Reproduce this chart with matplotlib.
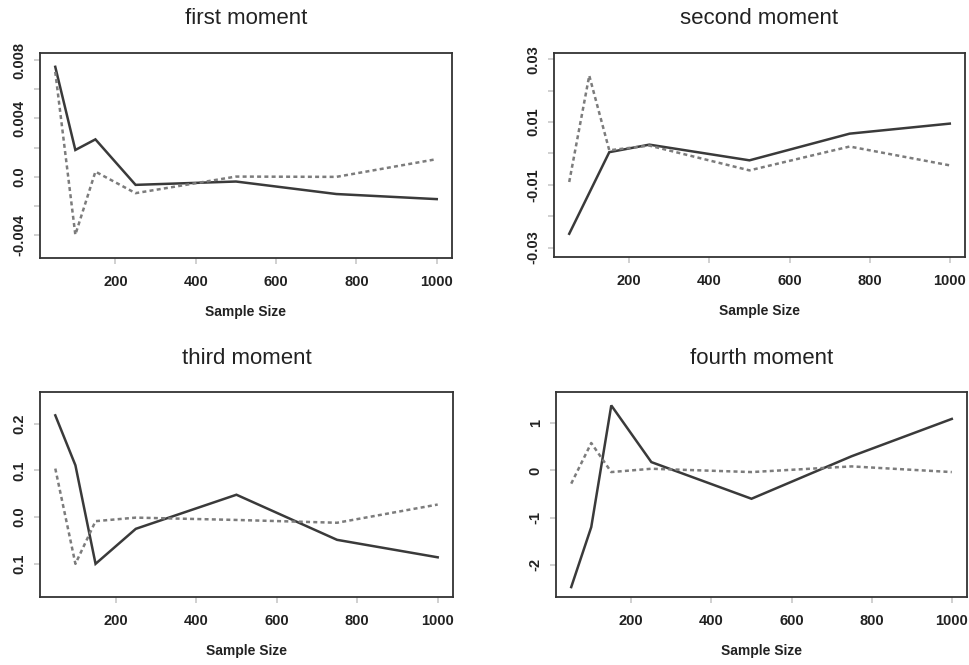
import numpy as np
import matplotlib
matplotlib.use('Agg')
import matplotlib.pyplot as plt

plt.rcParams['font.family'] = ['Liberation Sans', 'DejaVu Sans']

# sample sizes on the x axis
sample_sizes = [50, 100, 150, 250, 500, 750, 1000]

titles = ['first moment', 'second moment', 'third moment', 'fourth moment']

# solid line (first estimator) and dashed line (second estimator)
first_solid = [0.00755, 0.00183, 0.00256, -0.00057, -0.00034, -0.0012, -0.00155]
first_dashed = [0.0072, -0.0040, 0.00034, -0.00114, 0.0, -0.00002, 0.0012]

second_solid = [-0.0256, -0.0126, 0.0004, 0.0028, -0.0022, 0.0063, 0.0095]
second_dashed = [-0.0091, 0.0248, 0.0010, 0.0025, -0.0054, 0.0022, -0.0038]

third_solid = [0.218, 0.111, -0.100, -0.025, 0.048, -0.0486, -0.086]
third_dashed = [0.104, -0.100, -0.0086, -0.001, -0.006, -0.012, 0.027]

fourth_solid = [-2.47, -1.20, 1.376, 0.176, -0.60, 0.30, 1.09]
fourth_dashed = [-0.28, 0.58, -0.035, 0.035, -0.035, 0.085, -0.035]

# y ticks and labels per panel (labels as printed)
first_ticks = [-0.004, -0.002, 0.0, 0.002, 0.004, 0.006, 0.008]
first_labels = ['-0.004', '', '0.0', '', '0.004', '', '0.008']
second_ticks = [-0.03, -0.02, -0.01, 0.0, 0.01, 0.02, 0.03]
second_labels = ['-0.03', '', '-0.01', '', '0.01', '', '0.03']
third_ticks = [-0.1, 0.0, 0.1, 0.2]
third_labels = ['0.1', '0.0', '0.1', '0.2']
fourth_ticks = [-2, -1, 0, 1]
fourth_labels = ['-2', '-1', '0', '1']

x_ticks = [200, 400, 600, 800, 1000]

panels = [
    (first_solid, first_dashed, first_ticks, first_labels, (-0.0056, 0.0085)),
    (second_solid, second_dashed, second_ticks, second_labels, (-0.033, 0.032)),
    (third_solid, third_dashed, third_ticks, third_labels, (-0.171, 0.268)),
    (fourth_solid, fourth_dashed, fourth_ticks, fourth_labels, (-2.68, 1.66)),
]

# axes boxes in pixels: left, top, width, height
W, H = 970, 665
boxes = [(40, 53, 412, 205), (554, 53, 411, 204), (40, 392, 413, 205), (556, 392, 411, 205)]

fig = plt.figure(figsize=(W / 100, H / 100), dpi=100)

for (solid, dashed, yt, yl, ylim), (l, t, w, h), title in zip(panels, boxes, titles):
    ax = fig.add_axes([l / W, 1 - (t + h) / H, w / W, h / H])
    ax.plot(sample_sizes, solid, color='#3a3a3a', lw=1.8, solid_joinstyle='miter')
    ax.plot(sample_sizes, dashed, color='#7c7c7c', lw=1.8, linestyle=(0, (1.6, 1.3)))
    ax.set_xlim(12, 1038)
    ax.set_ylim(*ylim)
    ax.set_xticks(x_ticks)
    ax.set_xticklabels([str(v) for v in x_ticks])
    ax.set_yticks(yt)
    ax.set_yticklabels(yl)
    ax.tick_params(axis='both', direction='out', length=4, width=1.2, color='#c8c8c8',
                   labelsize=10.5, labelcolor='#222222', pad=8.5)
    ax.tick_params(axis='y', labelrotation=90, pad=5.5)
    for lab in ax.get_xticklabels() + ax.get_yticklabels():
        lab.set_fontweight('bold')
    for lab in ax.get_yticklabels():
        lab.set_verticalalignment('center')
    for sp in ax.spines.values():
        sp.set_color('#333333')
        sp.set_linewidth(1.3)
    ax.text(0.5, -54 / h, 'Sample Size', transform=ax.transAxes, ha='center', va='center',
            fontsize=10, fontweight='bold', color='#222222')
    fig.text((l + w / 2) / W, 1 - (t - 34) / H, title, ha='center', va='center',
             fontsize=16, color='#222222')

fig.savefig('out.png', dpi=100)
